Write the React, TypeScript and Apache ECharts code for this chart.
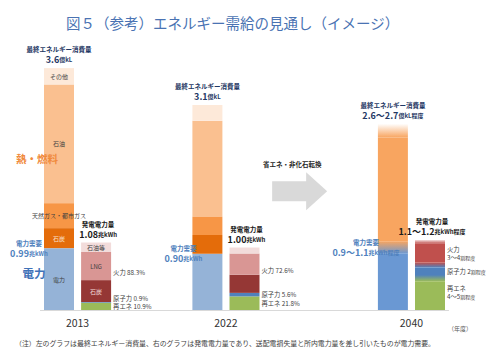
import React, { useEffect, useRef } from 'react';
import * as echarts from 'echarts';

const FONT = '"Noto Sans CJK JP", "Noto Sans", sans-serif';

const categories = [
  '2013 最終エネルギー消費量', '2013 発電電力量', '間隔1', '間隔2',
  '2022 最終エネルギー消費量', '2022 発電電力量', '間隔3', '間隔4', '間隔5',
  '2040 最終エネルギー消費量', '2040 発電電力量',
];
const yearLabels = ['2013', '2022', '2040'];
const consumptionIndex = [0, 4, 9];
const generationIndex = [1, 5, 10];

// 最終エネルギー消費量 (bottom -> top)
const consumptionNames = ['電力', '石炭', '天然ガス・都市ガス', '石油', 'その他'];
const consumption2013 = [0.99, 0.32, 0.40, 1.90, 0.26];
const consumption2022 = [0.90, 0.30, 0.29, 1.54, 0.25];
// 発電電力量 (bottom -> top)
const generationNames = ['再エネ', '原子力', '石炭', 'LNG', '石油等'];
const generation2013 = [0.118, 0.010, 0.35, 0.45, 0.152];
const generation2022 = [0.218, 0.056, 0.29, 0.34, 0.096];
// 2040 outlook (ranges drawn as gradients)
const outlookConsumptionNames = ['電力需要', '電力需要(幅)', '熱・燃料', '最終エネルギー消費量(幅)'];
const consumption2040 = [0.9, 0.2, 1.66, 0.22];
const outlookGenerationNames = ['再エネ ', '再エネ(幅)', '原子力 ', '原子力(幅)', '火力', '火力(幅)'];
const generation2040 = [0.46, 0.10, 0.12, 0.08, 0.30, 0.06];

const totalConsumption = ['3.6', '3.1', '2.6～2.7'];
const totalConsumptionUnit = ['億kL', '億kL', '億kL程度'];
const powerDemand = ['0.99', '0.90', '0.9～1.1'];
const powerDemandUnit = ['兆kWh', '兆kWh', '兆kWh程度'];
const powerGeneration = ['1.08', '1.00', '1.1～1.2'];
const powerGenerationUnit = ['兆kWh', '兆kWh', '兆kWh程度'];
const thermalShare = ['88.3%', '72.6%', '3～4'];
const nuclearShare = ['0.9%', '5.6%', '2'];
const renewableShare = ['10.9%', '21.8%', '4～5'];
const shareUnit2040 = '割程度';

const titleText = '図５（参考）エネルギー需給の見通し（イメージ）';
const noteText = '（注）左のグラフは最終エネルギー消費量、右のグラフは発電電力量であり、送配電損失量と所内電力量を差し引いたものが電力需要。';
const arrowText = '省エネ・非化石転換';

const consumptionColors = ['#95b3d7', '#e46c0a', '#f79646', '#fac090', '#fde9d9'];
const consumptionLabelColors = ['#404040', '#fbe3d0', '#404040', '#404040', '#404040'];
const generationColors = ['#9bbb59', '#4f81bd', '#953735', '#d99694', '#f2dcdb'];
const generationLabelColors = ['#404040', '#404040', '#f2dcdb', '#404040', '#404040'];

const BLUE40 = '#6a98d3';
const ORANGE40 = '#f8a560';
const GREEN = '#9bbb59';
const BLUE = '#4f81bd';
const RED = '#c0504d';

const grad = (top: string, bottom: string) =>
  new echarts.graphic.LinearGradient(0, 0, 0, 1, [
    { offset: 0, color: top },
    { offset: 1, color: bottom },
  ]);

const consumption2040Colors = () => [
  BLUE40,
  grad(ORANGE40, BLUE40),
  ORANGE40,
  grad('rgba(248,165,96,0)', ORANGE40),
];
const generation2040Colors = () => [
  GREEN,
  grad(BLUE, GREEN),
  BLUE,
  grad(RED, BLUE),
  RED,
  grad('rgba(192,80,77,0.2)', RED),
];

const sum = (a: number[]) => a.reduce((s, v) => s + v, 0);

export default function App() {
  const ref = useRef<HTMLDivElement>(null);

  useEffect(() => {
    document.body.style.margin = '0';
    if (!ref.current) return;
    const chart = echarts.init(ref.current, undefined, { renderer: 'svg' });

    const series: any[] = [];
    consumptionNames.forEach((name, k) => {
      series.push({
        type: 'bar', name, stack: 'all', barWidth: 30,
        itemStyle: { color: consumptionColors[k] },
        label: {
          show: false, position: 'inside', formatter: '{a}', fontSize: 6,
          color: consumptionLabelColors[k], fontFamily: FONT,
        },
        data: categories.map((_, i) =>
          i === consumptionIndex[0] ? { value: consumption2013[k], label: { show: true } }
            : i === consumptionIndex[1] ? consumption2022[k] : '-'),
      });
    });
    generationNames.forEach((name, k) => {
      series.push({
        type: 'bar', name, stack: 'all', barWidth: 30,
        itemStyle: { color: generationColors[k] },
        label: {
          show: false, position: 'inside', formatter: '{a}', fontSize: 6,
          color: generationLabelColors[k], fontFamily: FONT,
        },
        data: categories.map((_, i) =>
          i === generationIndex[0] ? { value: generation2013[k], label: { show: k >= 2 } }
            : i === generationIndex[1] ? generation2022[k] : '-'),
      });
    });
    const c40 = consumption2040Colors();
    outlookConsumptionNames.forEach((name, k) => {
      series.push({
        type: 'bar', name, stack: 'all', barWidth: 30,
        itemStyle: { color: c40[k] },
        data: categories.map((_, i) => (i === consumptionIndex[2] ? consumption2040[k] : '-')),
      });
    });
    const g40 = generation2040Colors();
    outlookGenerationNames.forEach((name, k) => {
      series.push({
        type: 'bar', name, stack: 'all', barWidth: 30,
        itemStyle: { color: g40[k] },
        data: categories.map((_, i) => (i === generationIndex[2] ? generation2040[k] : '-')),
      });
    });

    const slot = (500 - 40.45 - 51.45) / categories.length;

    chart.setOption({
      animation: false,
      textStyle: { fontFamily: FONT },
      title: {
        text: titleText, left: 61, top: 10,
        textStyle: { fontSize: 14.5, fontWeight: 'normal', color: '#4a73b3', fontFamily: FONT },
      },
      grid: { left: 40.45, right: 51.45, top: 10, bottom: 46, containLabel: false },
      xAxis: {
        type: 'category', data: categories,
        axisLine: { lineStyle: { color: '#d9d9d9', width: 1 } },
        axisTick: { show: false },
        axisLabel: {
          interval: 0, margin: 7,
          formatter: (_v: string, i: number) => {
            const k = consumptionIndex.indexOf(i);
            return k >= 0 ? `{y|${yearLabels[k]}}` : '';
          },
          rich: {
            y: { padding: [0, 0, 0, slot], fontSize: 10.5, color: '#333333', fontFamily: FONT },
          },
        },
      },
      yAxis: { type: 'value', min: 0, max: 4.8, show: false, splitLine: { show: false } },
      series,
    });

    const px = (idx: number, v: number) =>
      chart.convertToPixel({ xAxisIndex: 0, yAxisIndex: 0 }, [idx, v]) as number[];

    const txt = (x: number, y: number, text: string, rich: any, align: string, vAlign: string, style: any = {}) => ({
      type: 'text', x, y, silent: true, z: 100,
      style: {
        text, rich, align, verticalAlign: vAlign, textAlign: align, textVerticalAlign: vAlign,
        fontFamily: FONT, ...style,
      },
    });

    const NAVY = '#1f3864';
    const DBLUE = '#4f81bd';
    const graphics: any[] = [];

    const consumptionTotals = [sum(consumption2013), sum(consumption2022), sum(consumption2040)];
    const generationTotals = [sum(generation2013), sum(generation2022), sum(generation2040)];
    const demandValues = [consumption2013[0], consumption2022[0], consumption2040[0] + consumption2040[1] / 2];
    const demandDx = [-30, -24, -27];

    for (let k = 0; k < 3; k++) {
      const [cx, ty] = px(consumptionIndex[k], consumptionTotals[k]);
      graphics.push(txt(cx, ty - 3, `{a|最終エネルギー消費量}\n{b|${totalConsumption[k]}}{c|${totalConsumptionUnit[k]}}`, {
        a: { fontSize: 6.5, fontWeight: 'bold', fill: NAVY, fontFamily: FONT, lineHeight: 10 },
        b: { fontSize: 9, fontWeight: 'bold', fill: NAVY, fontFamily: FONT, lineHeight: 11 },
        c: { fontSize: 6, fontWeight: 'bold', fill: NAVY, fontFamily: FONT, lineHeight: 11 },
      }, 'center', 'bottom'));

      const [, dy] = px(consumptionIndex[k], demandValues[k]);
      graphics.push(txt(cx + demandDx[k], dy, `{a|電力需要}\n{b|${powerDemand[k]}}{c|${powerDemandUnit[k]}}`, {
        a: { fontSize: 6.5, fontWeight: 'bold', fill: DBLUE, fontFamily: FONT, lineHeight: 10 },
        b: { fontSize: 9, fontWeight: 'bold', fill: DBLUE, fontFamily: FONT, lineHeight: 11 },
        c: { fontSize: 6, fontWeight: 'bold', fill: DBLUE, fontFamily: FONT, lineHeight: 11 },
      }, 'center', 'middle'));

      const [gx, gy] = px(generationIndex[k], generationTotals[k]);
      graphics.push(txt(gx + 2, gy - 3, `{a|発電電力量}\n{b|${powerGeneration[k]}}{c|${powerGenerationUnit[k]}}`, {
        a: { fontSize: 6.5, fontWeight: 'bold', fill: '#1a1a1a', fontFamily: FONT, lineHeight: 10 },
        b: { fontSize: 9, fontWeight: 'bold', fill: '#1a1a1a', fontFamily: FONT, lineHeight: 11 },
        c: { fontSize: 6, fontWeight: 'bold', fill: '#1a1a1a', fontFamily: FONT, lineHeight: 11 },
      }, 'center', 'bottom'));
    }

    const sideRich = {
      a: { fontSize: 6.3, fill: '#404040', fontFamily: FONT },
      s: { fontSize: 5, fill: '#404040', fontFamily: FONT },
    };
    const gens = [generation2013, generation2022];
    for (let k = 0; k < 2; k++) {
      const g = gens[k];
      const sx = px(generationIndex[k], 0)[0] + 17;
      const renewMid = g[0] / 2;
      const nucMid = Math.max(g[0] + g[1] / 2, renewMid + 0.12);
      const thermalMid = g[0] + g[1] + (g[2] + g[3] + g[4]) / 2;
      graphics.push(txt(sx, px(0, thermalMid)[1], `{a|火力 ${thermalShare[k]}}`, sideRich, 'left', 'middle'));
      graphics.push(txt(sx, px(0, nucMid)[1], `{a|原子力 ${nuclearShare[k]}}`, sideRich, 'left', 'middle'));
      graphics.push(txt(sx, px(0, renewMid)[1], `{a|再エネ ${renewableShare[k]}}`, sideRich, 'left', 'middle'));
    }
    {
      const g = generation2040;
      const sx = px(generationIndex[2], 0)[0] + 17;
      const renewMid = (g[0] + g[1]) / 2;
      const nucMid = g[0] + g[1] + g[2] / 2;
      const thermalMid = g[0] + g[1] + g[2] + g[3] + g[4] / 2;
      const ty = px(0, thermalMid)[1];
      const ry = px(0, renewMid)[1];
      graphics.push(txt(sx, ty - 4, '{a|火力}', sideRich, 'left', 'middle'));
      graphics.push(txt(sx, ty + 4, `{a|${thermalShare[2]}}{s|${shareUnit2040}}`, sideRich, 'left', 'middle'));
      graphics.push(txt(sx, px(0, nucMid)[1], `{a|原子力 ${nuclearShare[2]}}{s|${shareUnit2040}}`, sideRich, 'left', 'middle'));
      graphics.push(txt(sx, ry - 4, '{a|再エネ}', sideRich, 'left', 'middle'));
      graphics.push(txt(sx, ry + 4, `{a|${renewableShare[2]}}{s|${shareUnit2040}}`, sideRich, 'left', 'middle'));
    }

    // big category labels
    const [c13] = px(consumptionIndex[0], 0);
    const heatY = px(0, (consumption2013[0] + consumptionTotals[0]) / 2)[1];
    graphics.push(txt(c13 - 22, heatY, '熱・燃料', null, 'center', 'middle', {
      fontSize: 10.5, fontWeight: 'bold', fill: '#f08a3c',
    }));
    graphics.push(txt(c13 - 25, px(0, consumption2013[0] * 0.6)[1], '電力', null, 'center', 'middle', {
      fontSize: 11.5, fontWeight: 'bold', fill: '#3f72b8',
    }));

    // arrow in the gap
    const gxm = (px(6, 0)[0] + px(7, 0)[0]) / 2;
    const cy = px(0, 1.9)[1];
    const l = gxm - 28, hb = gxm + 6, tip = gxm + 27;
    graphics.push({
      type: 'polygon', silent: true, z: 50,
      shape: { points: [[l, cy - 10], [hb, cy - 10], [hb, cy - 19], [tip, cy], [hb, cy + 19], [hb, cy + 10], [l, cy + 10]] },
      style: { fill: '#d9d9d9' },
    });
    graphics.push(txt(gxm - 8, cy - 27, arrowText, null, 'center', 'middle', {
      fontSize: 6.5, fontWeight: 'bold', fill: '#262626',
    }));

    // unit + footnote
    const [, axisY] = px(0, 0);
    graphics.push(txt(px(10, 0)[0] + 30, axisY + 18, '（年度）', null, 'center', 'middle', {
      fontSize: 6, fill: '#595959',
    }));
    graphics.push(txt(15, 343, noteText, null, 'left', 'middle', {
      fontSize: 6.9, fill: '#404040',
    }));

    chart.setOption({ graphic: { elements: graphics } });

    return () => chart.dispose();
  }, []);

  return <div ref={ref} style={{ width: 500, height: 356 }} />;
}
